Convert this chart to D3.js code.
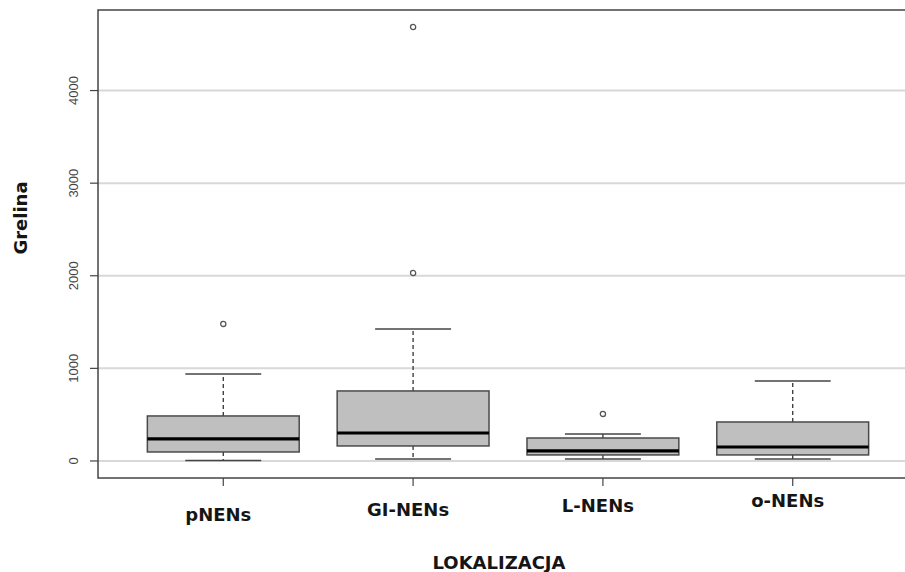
<!DOCTYPE html>
<html>
<head>
<meta charset="utf-8">
<script src="https://cdn.jsdelivr.net/npm/d3@7"></script>
<style>
  body { margin: 0; background: #fff; }
  .tick-lbl { font-family: "Liberation Sans", Arial, sans-serif; font-size: 13px; fill: #444; }
  .cat-lbl, .ttl { font-family: "DejaVu Sans", sans-serif; font-weight: bold; font-size: 18px; fill: #151515; }
</style>
</head>
<body>
<svg width="905" height="572"></svg>
<script>
// box plot stats
var categories = ["pNENs", "GI-NENs", "L-NENs", "o-NENs"];
var whiskerLo = [5, 22, 22, 22];
var q1 = [97, 162, 65, 65];
var median = [238, 302, 108, 151];
var q3 = [486, 756, 248, 421];
var whiskerHi = [940, 1425, 292, 864];
var outliers = [[1480], [2030, 4687], [508], []];
var yTicks = [0, 1000, 2000, 3000, 4000];

var svg = d3.select("svg"),
    margin = {top: 10, right: -13, bottom: 94, left: 98},
    width = +svg.attr("width") - margin.left - margin.right,
    height = +svg.attr("height") - margin.top - margin.bottom;

var x = d3.scalePoint().domain(categories).range([0, width]).padding(0.66),
    y = d3.scaleLinear().domain([-184, 4870]).range([height, 0]);

var boxW = x.step() * 0.8;

var g = svg.append("g")
    .attr("transform", "translate(" + margin.left + "," + margin.top + ")");

/* grid lines */
g.selectAll(".grid")
    .data(yTicks)
    .enter().append("line")
    .attr("x1", 0).attr("x2", width)
    .attr("y1", function (d) { return y(d); })
    .attr("y2", function (d) { return y(d); })
    .attr("stroke", "#d8d8d8")
    .attr("stroke-width", 2);

var data = categories.map(function (c, i) {
    return {cat: c, lo: whiskerLo[i], q1: q1[i], med: median[i], q3: q3[i], hi: whiskerHi[i], out: outliers[i]};
});

var box = g.selectAll(".box")
    .data(data)
    .enter().append("g")
    .attr("class", "box")
    .attr("transform", function (d) { return "translate(" + x(d.cat) + ",0)"; });

// whiskers (dashed)
box.append("line")
    .attr("y1", function (d) { return y(d.q3); })
    .attr("y2", function (d) { return y(d.hi); })
    .attr("stroke", "#333").attr("stroke-dasharray", "4,3").attr("stroke-width", 1.3);
box.append("line")
    .attr("y1", function (d) { return y(d.q1); })
    .attr("y2", function (d) { return y(d.lo); })
    .attr("stroke", "#333").attr("stroke-dasharray", "4,3").attr("stroke-width", 1.3);

// caps
["hi", "lo"].forEach(function (k) {
    box.append("line")
        .attr("x1", -boxW / 4).attr("x2", boxW / 4)
        .attr("y1", function (d) { return y(d[k]); })
        .attr("y2", function (d) { return y(d[k]); })
        .attr("stroke", "#444").attr("stroke-width", 1.5);
});

box.append("rect")
    .attr("x", -boxW / 2)
    .attr("width", boxW)
    .attr("y", function (d) { return y(d.q3); })
    .attr("height", function (d) { return y(d.q1) - y(d.q3); })
    .attr("fill", "#bfbfbf")
    .attr("stroke", "#4a4a4a")
    .attr("stroke-width", 1.5);

box.append("line")
    .attr("x1", -boxW / 2).attr("x2", boxW / 2)
    .attr("y1", function (d) { return y(d.med); })
    .attr("y2", function (d) { return y(d.med); })
    .attr("stroke", "#000").attr("stroke-width", 3.2);

box.selectAll(".out")
    .data(function (d) { return d.out; })
    .enter().append("circle")
    .attr("r", 2.6)
    .attr("cy", function (d) { return y(d); })
    .attr("fill", "none")
    .attr("stroke", "#555")
    .attr("stroke-width", 1.3);

/* frame */
g.append("rect")
    .attr("width", width).attr("height", height)
    .attr("fill", "none").attr("stroke", "#444").attr("stroke-width", 1.5);

/* y axis */
var yAxis = g.append("g");
yAxis.selectAll("line")
    .data(yTicks)
    .enter().append("line")
    .attr("x1", -8).attr("x2", 0)
    .attr("y1", function (d) { return y(d); })
    .attr("y2", function (d) { return y(d); })
    .attr("stroke", "#444").attr("stroke-width", 1.2);
yAxis.selectAll("text")
    .data(yTicks)
    .enter().append("text")
    .attr("class", "tick-lbl")
    .attr("text-anchor", "middle")
    .attr("transform", function (d) { return "translate(-20," + y(d) + ")rotate(-90)"; })
    .text(function (d) { return d; });

/* x ticks + labels (labels sit on a slight slope like the original) */
g.selectAll(".xt")
    .data(categories)
    .enter().append("line")
    .attr("x1", function (d) { return x(d); })
    .attr("x2", function (d) { return x(d); })
    .attr("y1", height).attr("y2", height + 8)
    .attr("stroke", "#444").attr("stroke-width", 1.2);

g.selectAll(".cat-lbl")
    .data(categories)
    .enter().append("text")
    .attr("class", "cat-lbl")
    .attr("text-anchor", "middle")
    .attr("x", function (d) { return x(d) - 5; })
    .attr("y", function (d, i) { return height + 43 - i * 4.7; })
    .text(function (d) { return d; });

svg.append("text")
    .attr("class", "ttl")
    .attr("text-anchor", "middle")
    .attr("x", 499).attr("y", 569)
    .text("LOKALIZACJA");

svg.append("text")
    .attr("class", "ttl")
    .attr("text-anchor", "middle")
    .attr("transform", "translate(27,218)rotate(-90)")
    .text("Grelina");
</script>
</body>
</html>
